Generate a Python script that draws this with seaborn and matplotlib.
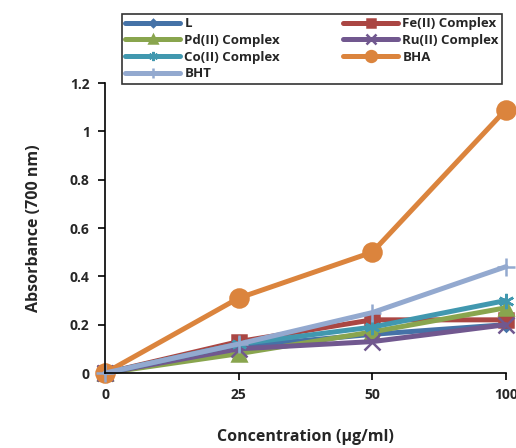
import pandas as pd
import matplotlib
matplotlib.use("Agg")
import matplotlib.pyplot as plt
import seaborn as sns

# concentrations (µg/ml) - category axis
concentrations = ["0", "25", "50", "100"]

# absorbance at 700 nm
L_vals = [0.0, 0.11, 0.16, 0.20]
fe_vals = [0.0, 0.13, 0.22, 0.22]
pd_vals = [0.0, 0.08, 0.17, 0.27]
ru_vals = [0.0, 0.10, 0.13, 0.20]
co_vals = [0.0, 0.12, 0.19, 0.30]
bha_vals = [0.0, 0.31, 0.50, 1.09]
bht_vals = [0.0, 0.12, 0.25, 0.44]

series_names = ["L", "Fe(II) Complex", "Pd(II) Complex", "Ru(II) Complex",
                "Co(II) Complex", "BHA", "BHT"]
series_vals = [L_vals, fe_vals, pd_vals, ru_vals, co_vals, bha_vals, bht_vals]

colors = ["#4572A7", "#AA4643", "#89A54E", "#71588F", "#4198AF", "#DB843D", "#93A9CF"]
markers = ["D", "s", "^", "x", (6, 2, 0), "o", "+"]
msizes = [6, 10, 10, 11, 11, 13, 13]

sns.set_theme(style="white")
plt.rcParams['font.family'] = ['Open Sans', 'DejaVu Sans']
plt.rcParams['font.weight'] = 'bold'

fig = plt.figure(figsize=(5.16, 4.48), dpi=100)
ax = fig.add_axes([0.2035, 0.1674, 0.777, 0.6473])

rows = []
for name, vals in zip(series_names, series_vals):
    for i, v in enumerate(vals):
        rows.append({"series": name, "pos": i, "absorbance": v})
df = pd.DataFrame(rows)

handles = {}
for name, c, m, ms in zip(series_names, colors, markers, msizes):
    sub = df[df["series"] == name]
    sns.lineplot(data=sub, x="pos", y="absorbance", ax=ax, color=c, linewidth=3.6,
                 marker=m, markersize=ms, markeredgecolor=c, markeredgewidth=1.8,
                 clip_on=False, label=name, legend=False)
    handles[name] = ax.get_lines()[-1]

ax.set_xlim(0, 3)
ax.set_ylim(0, 1.2)
ax.set_xticks(range(len(concentrations)))
ax.set_xticklabels(concentrations)
ax.set_yticks([0, 0.2, 0.4, 0.6, 0.8, 1.0, 1.2])
ax.set_yticklabels(["0", "0.2", "0.4", "0.6", "0.8", "1", "1.2"])
for lab in ax.get_xticklabels() + ax.get_yticklabels():
    lab.set_fontweight('bold')
    lab.set_fontsize(10)

ax.spines['top'].set_visible(False)
ax.spines['right'].set_visible(False)
for sp in ['left', 'bottom']:
    ax.spines[sp].set_color('black')
    ax.spines[sp].set_linewidth(1.2)
ax.tick_params(axis='both', direction='out', length=5, width=1.2, color='black',
               bottom=True, left=True, pad=6)

ax.set_xlabel("Concentration (µg/ml)", fontsize=11.5, fontweight='bold', labelpad=19)
ax.set_ylabel("Absorbance (700 nm)", fontsize=11.5, fontweight='bold', labelpad=20)

order = ["L", "Pd(II) Complex", "Co(II) Complex", "BHT",
         "Fe(II) Complex", "Ru(II) Complex", "BHA"]
leg = fig.legend([handles[n] for n in order], order, ncol=2,
                 loc='upper left', bbox_to_anchor=(0.236, 0.8125, 0.737, 0.156),
                 mode='expand', frameon=True, fancybox=False, handlelength=4.2,
                 handletextpad=0.3, labelspacing=0.28, borderpad=0.25,
                 borderaxespad=0.0,
                 markerscale=0.6, prop={'weight': 'bold', 'size': 9.5})
leg.get_frame().set_edgecolor('black')
leg.get_frame().set_linewidth(1.2)

fig.savefig("out.png", dpi=100)
